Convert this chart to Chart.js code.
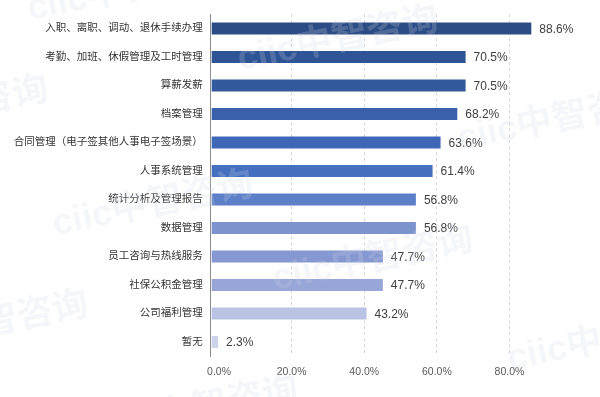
<!DOCTYPE html>
<html>
<head>
<meta charset="utf-8">
<script src="https://cdn.jsdelivr.net/npm/chart.js@4/dist/chart.umd.min.js"></script>
<style>
  html, body { margin: 0; padding: 0; background: #fff; }
  #wrap { width: 600px; height: 397px; position: relative; }
</style>
</head>
<body>
<div id="wrap"><canvas id="chart"></canvas></div>
<script>
const categories = [
  "入职、离职、调动、退休手续办理",
  "考勤、加班、休假管理及工时管理",
  "算薪发薪",
  "档案管理",
  "合同管理（电子签其他人事电子签场景）",
  "人事系统管理",
  "统计分析及管理报告",
  "数据管理",
  "员工咨询与热线服务",
  "社保公积金管理",
  "公司福利管理",
  "暂无",
];
const values = [88.6, 70.5, 70.5, 68.2, 63.6, 61.4, 56.8, 56.8, 47.7, 47.7, 43.2, 2.3];
const barColors = [
  "#2c4c86", "#2f5496", "#345a9e", "#3a60ab", "#3e67b5", "#4470bf",
  "#5c7fc8", "#7d93cd", "#8698d2", "#97a5d7", "#bac3e3", "#cdd4ea",
];
const tickValues = [0, 20, 40, 60, 80];

const FONT = "'Liberation Sans', 'Noto Sans CJK SC', sans-serif";

// value labels at the end of each bar
const valueLabels = {
  id: "valueLabels",
  afterDatasetsDraw(chart) {
    const ctx = chart.ctx;
    const meta = chart.getDatasetMeta(0);
    ctx.save();
    ctx.font = "12px " + FONT;
    ctx.fillStyle = "#404040";
    ctx.textBaseline = "middle";
    ctx.textAlign = "left";
    meta.data.forEach((bar, i) => {
      ctx.fillText(values[i].toFixed(1) + "%", bar.x + 7, bar.y + 1);
    });
    ctx.restore();
  },
};

// faint "ciic中智咨询" watermark
const watermark = {
  id: "watermark",
  afterDraw(chart) {
    const ctx = chart.ctx;
    const spots = [
      [30, 20], [240, 70], [460, 150], [-150, 140], [55, 235],
      [275, 290], [-110, 355], [510, 370], [100, 440],
    ];
    ctx.save();
    ctx.font = "bold 36px " + FONT;
    ctx.fillStyle = "rgba(210, 215, 226, 0.22)";
    ctx.textBaseline = "alphabetic";
    spots.forEach(([x, y]) => {
      ctx.save();
      ctx.translate(x, y);
      ctx.rotate(-0.2);
      ctx.fillText("ciic中智咨询", 0, 0);
      ctx.restore();
    });
    ctx.restore();
  },
};

new Chart(document.getElementById("chart"), {
  type: "bar",
  data: {
    labels: categories,
    datasets: [
      {
        data: values,
        backgroundColor: barColors,
        borderColor: "rgba(255, 255, 255, 0.25)",
        borderWidth: 1,
        borderSkipped: false,
        categoryPercentage: 1,
        barPercentage: 0.49,
        xAxisID: "x",
      },
    ],
  },
  options: {
    indexAxis: "y",
    responsive: true,
    maintainAspectRatio: false,
    animation: false,
    layout: { padding: { top: 8.5, right: 26.3, left: 0, bottom: 0 } },
    plugins: {
      legend: { display: false },
      tooltip: { enabled: false },
    },
    scales: {
      x: {
        display: false,
        min: 0,
        max: 100,
      },
      x2: {
        type: "linear",
        position: "bottom",
        min: -2.3,
        max: 97.7,
        afterBuildTicks: (axis) => {
          axis.ticks = tickValues.map((v) => ({ value: v }));
        },
        afterFit: (axis) => {
          axis.height = 40.8;
        },
        grid: {
          color: (c) => (c.tick && c.tick.value === 0 ? "rgba(0,0,0,0)" : "#d6d6d6"),
          drawTicks: false,
        },
        border: { display: false, dash: [3, 3] },
        ticks: {
          padding: 10,
          color: "#595959",
          font: { family: FONT, size: 10.5 },
          callback: (v) => v.toFixed(1) + "%",
        },
      },
      y: {
        afterFit: (axis) => {
          axis.width = 210.7;
        },
        grid: { display: false, drawTicks: false },
        border: { display: true, color: "#8c8c8c", width: 1 },
        ticks: {
          padding: 8,
          color: "#333333",
          font: { family: FONT, size: 10.5 },
        },
      },
    },
  },
  plugins: [valueLabels, watermark],
});
</script>
</body>
</html>
